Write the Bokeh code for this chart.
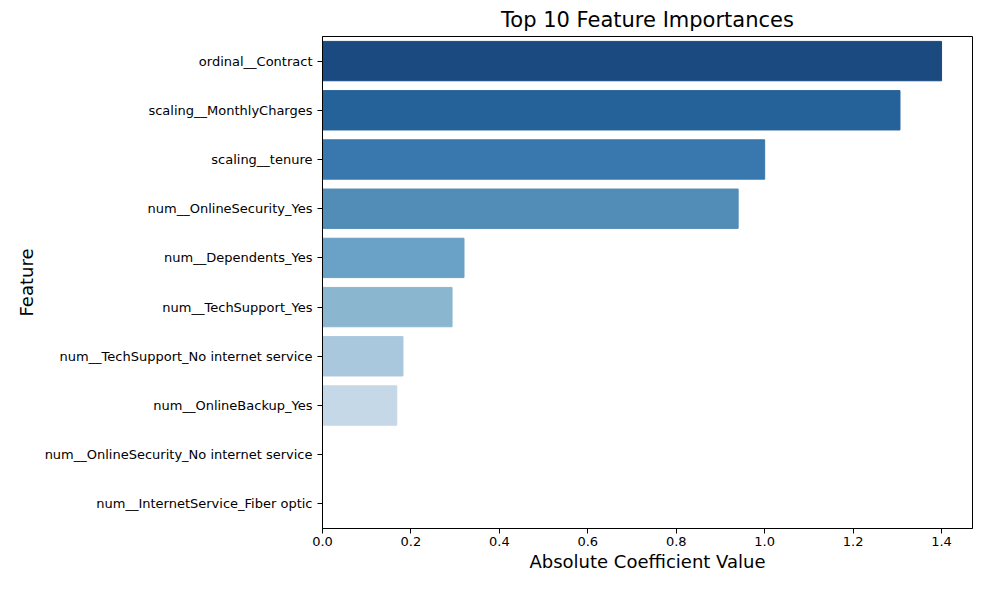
from bokeh.plotting import figure
from bokeh.models import ColumnDataSource, Range1d, SingleIntervalTicker, NumeralTickFormatter
from bokeh.embed import file_html
from bokeh.resources import INLINE

features = ["ordinal__Contract", "scaling__MonthlyCharges", "scaling__tenure",
            "num__OnlineSecurity_Yes", "num__Dependents_Yes", "num__TechSupport_Yes",
            "num__TechSupport_No internet service", "num__OnlineBackup_Yes",
            "num__OnlineSecurity_No internet service", "num__InternetService_Fiber optic"]
values = [1.40, 1.306, 1.0, 0.94, 0.32, 0.293, 0.182, 0.168, 0.0, 0.0]
colors = ["#1b4a80", "#26629a", "#3878ae", "#518db7", "#6aa1c7", "#8bb6cf",
          "#a9c8dd", "#c5d8e8", "#e0ebf5", "#f5f9fd"]

src = ColumnDataSource(dict(f=features, v=values, c=colors))
p = figure(width=973, height=574, y_range=list(reversed(features)),
           x_range=Range1d(0, 1.47), output_backend="svg", toolbar_location=None,
           min_border_left=322, min_border_right=1, min_border_bottom=42, min_border_top=18)
p.hbar(y="f", right="v", left=0, height=0.8, color="c", source=src)
p.title.text = "Top 10 Feature Importances"
p.title.align = "center"
p.title.text_font_size = "21px"
p.title.text_font_style = "normal"
p.title.text_font = "DejaVu Sans"
p.title.text_color = "black"
p.xaxis.axis_label = "Absolute Coefficient Value"
p.yaxis.axis_label = "Feature"
for ax in (p.xaxis, p.yaxis):
    ax.axis_label_text_font_size = "18px"
    ax.axis_label_text_font_style = "normal"
    ax.axis_label_text_font = "DejaVu Sans"
    ax.axis_label_text_color = "black"
    ax.major_label_text_font_size = "13px"
    ax.major_label_text_font = "DejaVu Sans"
    ax.major_label_text_color = "black"
    ax.axis_line_color = "black"
    ax.major_tick_line_color = "black"
    ax.minor_tick_line_color = None
    ax.major_tick_out = 5
    ax.major_tick_in = 0
p.xaxis.axis_label_standoff = 2
p.xaxis.major_label_standoff = 3
p.xaxis.ticker = SingleIntervalTicker(interval=0.2)
p.xaxis.formatter = NumeralTickFormatter(format="0.0")
p.xgrid.visible = False
p.ygrid.visible = False
p.outline_line_color = "black"
p.y_range.range_padding = 0.0
open("out.html", "w").write(file_html(p, INLINE))
